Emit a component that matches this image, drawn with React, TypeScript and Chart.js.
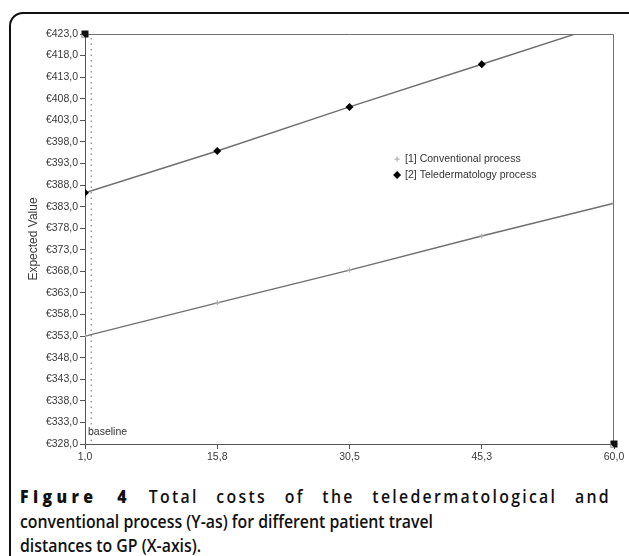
import React, { useEffect, useRef } from "react";
import { Chart, registerables } from "chart.js";

Chart.register(...registerables);

// ---- data ----
const distances = [1, 15.75, 30.5, 45.25, 60];
const xTickLabels = ["1,0", "15,8", "30,5", "45,3", "60,0"];
const conventionalCost = [353.0, 360.7, 368.3, 376.2, 383.8];
const teledermCost = [386.2, 395.9, 406.1, 416.0, 425.9];
const seriesLabels = ["[1] Conventional process", "[2] Teledermatology process"];
const yMin = 328;
const yMax = 423;
const yStep = 5;
const baselineDistance = 1.7;
const yTitle = "Expected Value";

const AXIS_FONT = "'Liberation Sans', Arial, sans-serif";

const framePlugin = {
  id: "framePlugin",
  beforeDatasetsDraw(chart: any) {
    const { ctx, chartArea, scales } = chart;
    const x = scales.x.getPixelForValue(baselineDistance);
    ctx.save();
    ctx.strokeStyle = "#9a9a9a";
    ctx.lineWidth = 1.5;
    ctx.setLineDash([1.5, 4]);
    ctx.beginPath();
    ctx.moveTo(x, chartArea.top + 4);
    ctx.lineTo(x, chartArea.bottom);
    ctx.stroke();
    ctx.setLineDash([]);
    ctx.fillStyle = "#333";
    ctx.font = `10.5px ${AXIS_FONT}`;
    ctx.textBaseline = "middle";
    ctx.textAlign = "left";
    ctx.fillText("baseline", chartArea.left + 3, chartArea.bottom - 12);
    ctx.restore();
  },
  afterDraw(chart: any) {
    const { ctx, chartArea } = chart;
    const { left, right, top, bottom } = chartArea;
    ctx.save();
    ctx.strokeStyle = "#707070";
    ctx.lineWidth = 1;
    ctx.beginPath();
    ctx.moveTo(left, top + 0.5);
    ctx.lineTo(right - 0.5, top + 0.5);
    ctx.lineTo(right - 0.5, bottom);
    ctx.stroke();
    // corner squares
    const sq = (cx: number, cy: number) => {
      ctx.fillStyle = "#111";
      ctx.fillRect(cx - 3.5, cy - 3.5, 7, 7);
      ctx.fillStyle = "#cfcfcf";
      ctx.beginPath();
      ctx.moveTo(cx - 3.5, cy + 3.5);
      ctx.lineTo(cx - 3.5, cy);
      ctx.lineTo(cx, cy + 3.5);
      ctx.closePath();
      ctx.fill();
    };
    sq(left, top);
    sq(right, bottom);
    // legend
    const lx = left + 0.59 * (right - left);
    const ly = top + 0.305 * (bottom - top);
    ctx.font = `10.5px ${AXIS_FONT}`;
    ctx.textBaseline = "middle";
    ctx.textAlign = "left";
    ctx.strokeStyle = "#b0b0b0";
    ctx.lineWidth = 1.2;
    ctx.beginPath();
    ctx.moveTo(lx - 2.5, ly);
    ctx.lineTo(lx + 2.5, ly);
    ctx.moveTo(lx, ly - 2.5);
    ctx.lineTo(lx, ly + 2.5);
    ctx.stroke();
    ctx.fillStyle = "#333";
    ctx.fillText(seriesLabels[0], lx + 8, ly);
    const ly2 = ly + 16;
    ctx.fillStyle = "#000";
    ctx.beginPath();
    ctx.moveTo(lx, ly2 - 4);
    ctx.lineTo(lx + 4, ly2);
    ctx.lineTo(lx, ly2 + 4);
    ctx.lineTo(lx - 4, ly2);
    ctx.closePath();
    ctx.fill();
    ctx.fillStyle = "#333";
    ctx.fillText(seriesLabels[1], lx + 8, ly2);
    ctx.restore();
  },
};

function ChartBox() {
  const ref = useRef<HTMLCanvasElement | null>(null);
  useEffect(() => {
    if (!ref.current) return;
    const chart = new Chart(ref.current, {
      type: "line",
      data: {
        datasets: [
          {
            label: seriesLabels[0],
            data: distances.map((d, i) => ({ x: d, y: conventionalCost[i] })),
            borderColor: "#6e6e6e",
            borderWidth: 1.4,
            pointStyle: "cross",
            pointRadius: 2.5,
            pointBorderColor: "#b0b0b0",
            pointBorderWidth: 1.2,
            tension: 0,
          },
          {
            label: seriesLabels[1],
            data: distances.map((d, i) => ({ x: d, y: teledermCost[i] })),
            borderColor: "#6e6e6e",
            borderWidth: 1.4,
            pointStyle: "rectRot",
            pointRadius: 4,
            pointBackgroundColor: "#000",
            pointBorderColor: "#000",
            pointBorderWidth: 0,
            tension: 0,
          },
        ],
      },
      options: {
        animation: false,
        responsive: true,
        maintainAspectRatio: false,
        layout: { padding: { top: 14, right: 15, left: 0, bottom: 0 } },
        plugins: {
          legend: { display: false },
          tooltip: { enabled: false },
        },
        scales: {
          x: {
            type: "linear",
            min: distances[0],
            max: distances[distances.length - 1],
            afterBuildTicks: (scale: any) => {
              scale.ticks = distances.map((v) => ({ value: v }));
            },
            afterFit: (scale: any) => {
              scale.height = 22;
            },
            grid: {
              drawOnChartArea: false,
              drawTicks: true,
              tickLength: 5,
              color: "#555",
            },
            border: { color: "#555", width: 1 },
            ticks: {
              autoSkip: false,
              maxRotation: 0,
              padding: 2,
              color: "#3a3a3a",
              font: { family: AXIS_FONT, size: 10.5 },
              callback: (_v: any, i: number) => xTickLabels[i],
            },
          },
          y: {
            type: "linear",
            min: yMin,
            max: yMax,
            afterFit: (scale: any) => {
              scale.width = 65;
            },
            grid: {
              drawOnChartArea: false,
              drawTicks: true,
              tickLength: 5,
              color: "#555",
            },
            border: { color: "#555", width: 1 },
            title: {
              display: true,
              text: yTitle,
              color: "#3a3a3a",
              font: { family: AXIS_FONT, size: 12 },
              padding: { top: 6, bottom: 0 },
            },
            ticks: {
              stepSize: yStep,
              padding: 2,
              color: "#3a3a3a",
              font: { family: AXIS_FONT, size: 10.5 },
              callback: (v: any) => "€" + Number(v).toFixed(1).replace(".", ","),
            },
          },
        },
      } as any,
      plugins: [framePlugin],
    });
    return () => chart.destroy();
  }, []);
  return (
    <div style={{ position: "absolute", left: 20, top: 20, width: 609, height: 446 }}>
      <canvas ref={ref} />
    </div>
  );
}

export default function App() {
  const capFont = "'Open Sans', 'Noto Sans', sans-serif";
  const sx = 0.88;
  return (
    <div
      style={{
        position: "fixed",
        left: 0,
        top: 0,
        width: 629,
        height: 556,
        overflow: "hidden",
        background: "#fff",
      }}
    >
      <div
        style={{
          position: "absolute",
          left: 9,
          top: 12,
          width: 640,
          height: 600,
          border: "2px solid #111",
          borderRadius: 14,
          boxSizing: "border-box",
        }}
      />
      <ChartBox />
      <div
        style={{
          position: "absolute",
          left: 20,
          top: 484,
          width: 591 / sx,
          transform: `scaleX(${sx})`,
          transformOrigin: "0 0",
          fontFamily: capFont,
          fontSize: 18,
          lineHeight: "24.5px",
          fontWeight: 600,
          color: "#111",
        }}
      >
        <div
          style={{
            textAlign: "justify",
            textAlignLast: "justify" as any,
            letterSpacing: 2.6,
            whiteSpace: "nowrap",
          }}
        >
          <span style={{ fontWeight: 800, letterSpacing: 5 }}>Figure 4</span> Total costs of the teledermatological and
        </div>
        <div>conventional process (Y-as) for different patient travel</div>
        <div>distances to GP (X-axis).</div>
      </div>
    </div>
  );
}
